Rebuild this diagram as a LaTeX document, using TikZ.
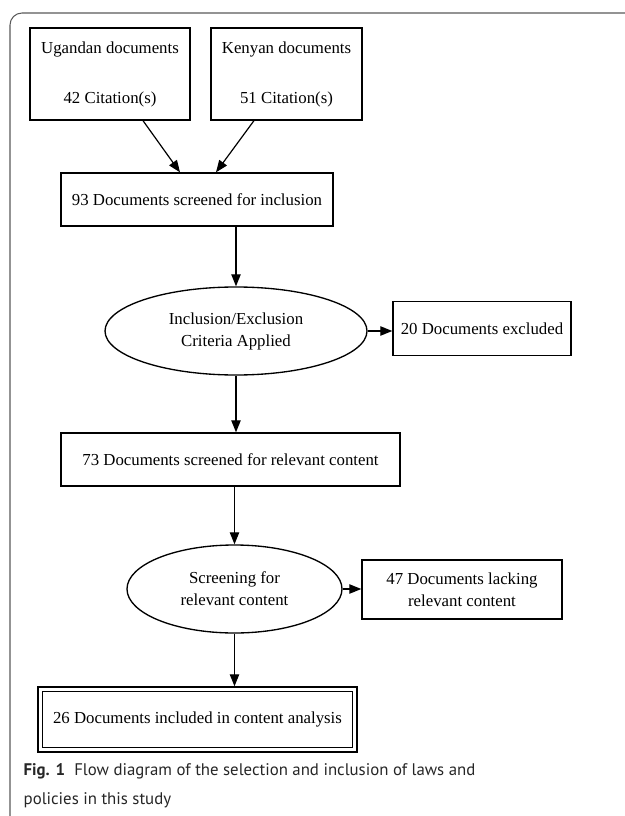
\documentclass[tikz,border=0pt]{standalone}
\usepackage{fontspec}
\setmainfont{Liberation Serif}
\newfontfamily\capfont{PT Sans}
\usetikzlibrary{shapes.geometric,arrows.meta}
\begin{document}
\begin{tikzpicture}[x=0.75pt,y=-0.75pt,
  every node/.style={font=\fontsize{12.6}{16.5}\selectfont, inner sep=0pt, line width=1pt},
  boxnode/.style={draw, rectangle, align=center},
  ellnode/.style={draw, ellipse, align=center, minimum height=66pt},
  arr/.style={line width=0.9pt, -{Triangle[length=9pt,width=7pt]}},
  frame/.style={draw=black!65, line width=0.8pt, rounded corners=9pt}]
\useasboundingbox (0,0) rectangle (624,816);
\draw[frame] (640,13) -- (10,13) -- (10,830);
% nodes
\node[boxnode, minimum width=120pt, minimum height=69pt] (ug) at (110,74)
  {Ugandan documents\\[21pt]42 Citation(s)};
\node[boxnode, minimum width=113.25pt, minimum height=69pt] (ke) at (286.5,74)
  {Kenyan documents\\[21pt]51 Citation(s)};
\node[boxnode, minimum width=204pt, minimum height=39.75pt] (s93) at (197,199.5)
  {93 Documents screened for inclusion};
\node[ellnode, minimum width=196.5pt] (e1) at (236,331)
  {Inclusion/Exclusion\\Criteria Applied};
\node[boxnode, minimum width=133.5pt, minimum height=40.5pt] (ex20) at (482,328.5)
  {20 Documents excluded};
\node[boxnode, minimum width=254.25pt, minimum height=39.75pt] (s73) at (230.5,459.5)
  {73 Documents screened for relevant content};
\node[ellnode, minimum width=161.25pt] (e2) at (234.5,589)
  {Screening for\\relevant content};
\node[boxnode, minimum width=150pt, minimum height=44.25pt] (ex47) at (462,589.5)
  {47 Documents lacking\\relevant content};
\node[boxnode, minimum width=239.25pt, minimum height=48.75pt] (fin) at (197.5,719.5)
  {26 Documents included in content analysis};
\draw[line width=1pt] ([shift={(5,5)}]fin.north west) rectangle ([shift={(-5,-5)}]fin.south east);
% connectors
\draw[arr] ([xshift=24.75pt]ug.south) -- ([xshift=-12.75pt]s93.north);
\draw[arr] ([xshift=-24.4pt]ke.south) -- ([xshift=14.25pt]s93.north);
\draw[arr] (s93.south -| e1.north) -- (e1.north);
\draw[arr] (e1.east) -- (ex20.west |- e1.east);
\draw[arr] (e1.south) -- (s73.north -| e1.south);
\draw[arr] (s73.south -| e2.north) -- (e2.north);
\draw[arr] (e2.east) -- (ex47.west |- e2.east);
\draw[arr] (e2.south) -- (fin.north -| e2.south);
% caption
\node[anchor=west, font=\capfont\fontsize{12.6}{16}\selectfont, text=black!85] (cap1) at (23,771)
  {\textbf{Fig. 1}\hspace{0.55em}Flow diagram of the selection and inclusion of laws and};
\node[anchor=west, font=\capfont\fontsize{12.6}{16}\selectfont, text=black!85] (cap2) at (23,800)
  {policies in this study};
\end{tikzpicture}
\end{document}
